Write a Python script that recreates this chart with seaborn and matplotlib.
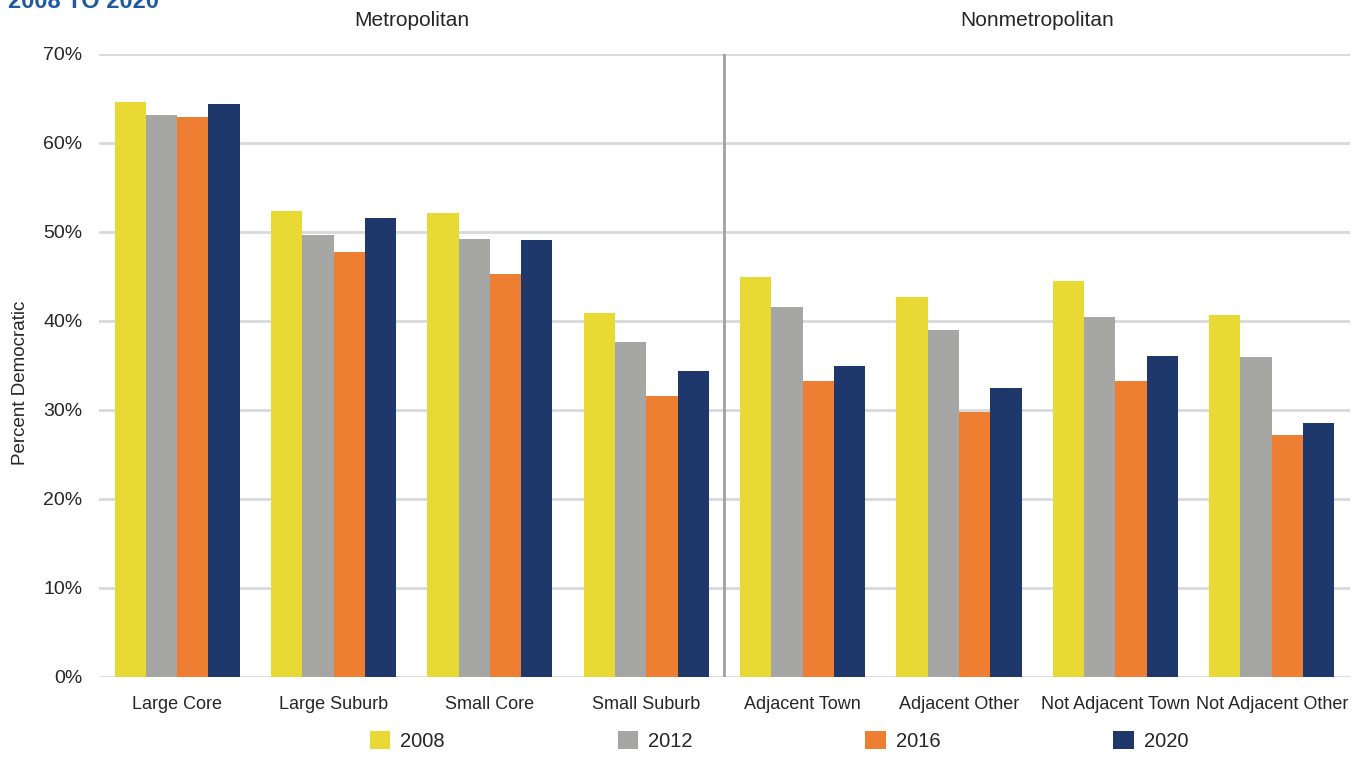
import numpy as np
import pandas as pd
import matplotlib.pyplot as plt
import seaborn as sns

categories = ['Large Core', 'Large Suburb', 'Small Core', 'Small Suburb',
              'Adjacent Town', 'Adjacent Other', 'Not Adjacent Town', 'Not Adjacent Other']
years = ['2008', '2012', '2016', '2020']
v2008 = [64.6, 52.4, 52.1, 40.9, 44.9, 42.7, 44.5, 40.7]
v2012 = [63.1, 49.7, 49.2, 37.6, 41.6, 39.0, 40.4, 36.0]
v2016 = [62.9, 47.8, 45.3, 31.6, 33.3, 29.8, 33.3, 27.2]
v2020 = [64.4, 51.6, 49.1, 34.4, 34.9, 32.5, 36.1, 28.5]
palette = ['#E8D935', '#A6A6A5', '#EE7E31', '#1F386B']

rows = []
for yr, vals in zip(years, [v2008, v2012, v2016, v2020]):
    for c, v in zip(categories, vals):
        rows.append({'area': c, 'year': yr, 'pct': v})
df = pd.DataFrame(rows)

sns.set_style('white')
plt.rcParams['font.family'] = ['Liberation Sans', 'DejaVu Sans']

fig = plt.figure(figsize=(13.64, 7.57), dpi=100)
ax = fig.add_axes([0.0726, 0.1057, 0.9171, 0.823])
sns.barplot(data=df, x='area', y='pct', hue='year', palette=palette, order=categories,
            hue_order=years, width=0.8, saturation=1, ax=ax, linewidth=0)

ax.set_ylim(0, 70)
ax.set_xlim(-0.5, 7.5)
ax.set_yticks(np.arange(0, 71, 10))
ax.set_yticklabels([f'{t}%' for t in range(0, 71, 10)], fontsize=14)
ax.yaxis.grid(True, color='#D9D9D9', linewidth=2)
ax.set_axisbelow(True)
for s in ax.spines.values():
    s.set_visible(False)
ax.tick_params(axis='both', length=0)
ax.tick_params(axis='y', pad=12)
ax.set_xticks(range(len(categories)))
ax.set_xticklabels(categories, fontsize=13)
ax.tick_params(axis='x', pad=14)
ax.set_xlabel('')
ax.set_ylabel('Percent Democratic', fontsize=13.5)
ax.yaxis.set_label_coords(-0.056, 0.472)

ax.axvline(3.5, color='#A0A0A0', linewidth=2, ymin=0, ymax=1)

ax.text(1.5, 1.054, 'Metropolitan', transform=ax.get_xaxis_transform(),
        ha='center', va='center', fontsize=15)
ax.text(5.5, 1.054, 'Nonmetropolitan', transform=ax.get_xaxis_transform(),
        ha='center', va='center', fontsize=15)

# title sits partly above the canvas, as in the source crop
fig.text(0.006, 1 - 8 / 757, '2008 TO 2020', fontsize=17, fontweight='bold',
         color='#1F5AA0', va='baseline', ha='left')

ax.get_legend().remove()
handles, labels = ax.get_legend_handles_labels()
fig.legend(handles, labels, loc='center', bbox_to_anchor=(0.571, 1 - 741 / 757), ncol=4,
           frameon=False, fontsize=14.5, handlelength=1.0, handleheight=1.0,
           columnspacing=8.6, handletextpad=0.5, borderpad=0.2)

fig.savefig('out.png', dpi=100)
